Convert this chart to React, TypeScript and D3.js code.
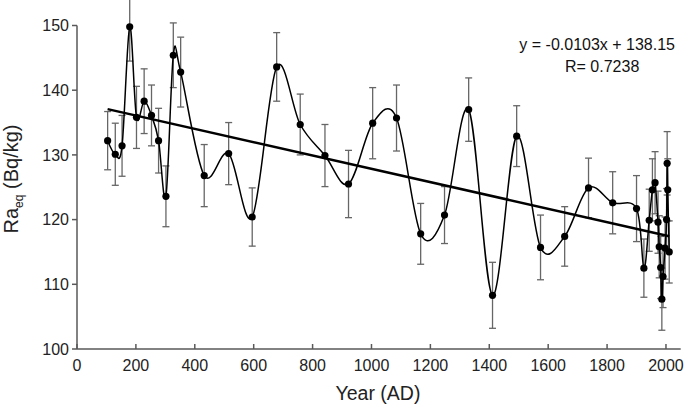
import React from "react";
import * as d3 from "d3";

const years = [104, 130, 153, 179, 202, 228, 253, 277, 302, 327, 352, 432, 515, 595, 678, 758, 842, 922, 1004, 1085, 1167, 1248, 1330, 1411, 1493, 1574, 1656, 1737, 1819, 1900, 1925, 1943, 1954, 1963, 1973, 1977, 1982, 1986, 1990, 1997, 2002, 2004, 2006, 2011];
const raeq = [132.2, 130.1, 131.4, 149.8, 135.8, 138.3, 136.1, 132.2, 123.6, 145.4, 142.8, 126.8, 130.2, 120.4, 143.6, 134.7, 129.9, 125.5, 134.9, 135.7, 117.8, 120.7, 137.0, 108.3, 132.9, 115.7, 117.4, 124.9, 122.6, 121.7, 112.5, 119.9, 124.6, 125.7, 119.6, 115.8, 112.6, 107.7, 111.2, 115.6, 120.0, 128.7, 124.6, 115.0];
const errs = [4.5, 4.8, 4.7, 5.3, 4.8, 5.0, 4.7, 5.0, 4.7, 5.0, 5.4, 4.8, 4.8, 4.5, 5.3, 4.7, 4.8, 5.2, 5.5, 5.1, 4.7, 4.4, 4.9, 5.1, 4.7, 5.0, 4.6, 4.6, 4.8, 5.1, 4.5, 4.8, 4.8, 4.8, 4.8, 4.8, 4.8, 4.8, 4.8, 4.8, 4.8, 4.9, 4.8, 4.8];
const xTicks = [0, 200, 400, 600, 800, 1000, 1200, 1400, 1600, 1800, 2000];
const yTicks = [100, 110, 120, 130, 140, 150];
const slope = -0.0103;
const intercept = 138.15;
const eqText = "y = -0.0103x + 138.15";
const rText = "R= 0.7238";

export default function App() {
  const W = 685, H = 407;
  const x = d3.scaleLinear().domain([0, 2050]).range([77, 680.7]);
  const y = d3.scaleLinear().domain([100, 150]).range([349, 25.5]);
  const pts = years.map((yr, i) => [x(yr), y(raeq[i])] as [number, number]);
  const curve = d3.line().curve(d3.curveCardinal.tension(0))(pts) || "";
  const x0 = d3.min(years)!, x1 = d3.max(years)!;
  const font = "Liberation Sans, Arial, sans-serif";
  const axisColor = "#595959";
  return (
    <svg width={W} height={H} style={{ position: "absolute", left: 0, top: 0, background: "#fff" }} fontFamily={font}>
      <rect x={0} y={0} width={W} height={H} fill="#fff" />
      {/* axes */}
      <line x1={x(0)} x2={x(0)} y1={y(150)} y2={y(100)} stroke={axisColor} strokeWidth={1.5} />
      <line x1={x(0)} x2={x.range()[1]} y1={y(100)} y2={y(100)} stroke={axisColor} strokeWidth={1.5} />
      {yTicks.map((t) => (
        <g key={"y" + t}>
          <line x1={x(0) - 5} x2={x(0)} y1={y(t)} y2={y(t)} stroke={axisColor} strokeWidth={1.5} />
          <text x={x(0) - 8} y={y(t)} dy="0.35em" textAnchor="end" fontSize={16} fill="#222">{t}</text>
        </g>
      ))}
      {xTicks.map((t) => (
        <g key={"x" + t}>
          <line x1={x(t)} x2={x(t)} y1={y(100)} y2={y(100) - 5} stroke={axisColor} strokeWidth={1.5} />
          <text x={x(t)} y={y(100) + 22} textAnchor="middle" fontSize={16} fill="#222">{t}</text>
        </g>
      ))}
      <text x={378} y={400} textAnchor="middle" fontSize={19.5} fill="#222">Year (AD)</text>
      <text transform="translate(18,179) rotate(-90)" textAnchor="middle" fontSize={20} fill="#222">
        Ra<tspan fontSize={12} dy={5}>eq</tspan><tspan dy={-5}> (Bq/kg)</tspan>
      </text>
      {/* error bars */}
      {years.map((yr, i) => {
        const cx = x(yr);
        const top = y(raeq[i] + errs[i]);
        const bot = y(raeq[i] - errs[i]);
        return (
          <g key={"e" + i} stroke="#666" strokeWidth={1.3}>
            <line x1={cx} x2={cx} y1={top} y2={bot} />
            <line x1={cx - 3.5} x2={cx + 3.5} y1={top} y2={top} />
            <line x1={cx - 3.5} x2={cx + 3.5} y1={bot} y2={bot} />
          </g>
        );
      })}
      {/* smooth curve */}
      <path d={curve} fill="none" stroke="#000" strokeWidth={1.5} />
      {/* regression */}
      <line x1={x(x0)} x2={x(x1)} y1={y(slope * x0 + intercept)} y2={y(slope * x1 + intercept)} stroke="#000" strokeWidth={2.5} />
      {pts.map((p, i) => (
        <circle key={"c" + i} cx={p[0]} cy={p[1]} r={3.6} fill="#000" />
      ))}
      <text x={675} y={50} textAnchor="end" fontSize={16} fill="#111">{eqText}</text>
      <text x={565} y={72} fontSize={16} fill="#111">{rText}</text>
    </svg>
  );
}
